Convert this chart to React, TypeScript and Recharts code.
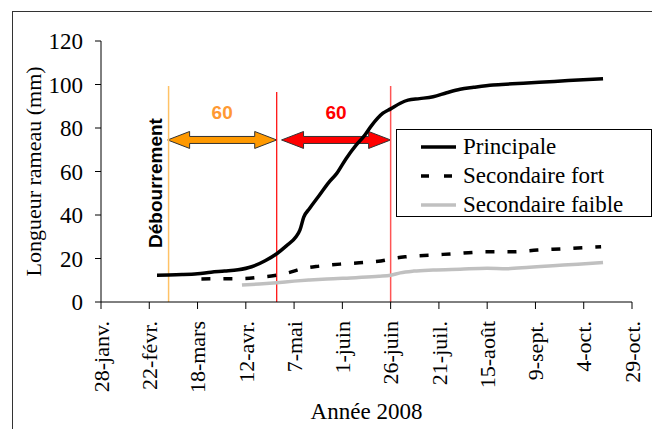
import { LineChart, Line, XAxis, YAxis, ReferenceLine, ReferenceArea, Label } from 'recharts';

// day of year 2008 (leap year)
const tickDays = [28, 53, 78, 103, 128, 153, 178, 203, 228, 253, 278, 303];
const tickLabels = ['28-janv.', '22-févr.', '18-mars', '12-avr.', '7-mai', '1-juin', '26-juin', '21-juil.', '15-août', '9-sept.', '4-oct.', '29-oct.'];
const yTicks = [0, 20, 40, 60, 80, 100, 120];

const principaleDays = [57, 63, 70, 78, 85, 92, 99, 106, 113, 119, 124, 129, 131, 133, 136, 141, 146, 150, 155, 160, 164, 168, 174, 178, 183, 187, 193, 200, 207, 214, 221, 231, 241, 255, 270, 288];
const principaleValues = [12.3, 12.4, 12.6, 13.0, 13.7, 14.2, 14.8, 16.2, 19, 22.2, 25.8, 30, 33, 39, 43, 49, 55, 59, 66, 72, 76, 81, 86.8, 88.8, 91.4, 92.8, 93.5, 94.4, 96.2, 97.8, 98.7, 99.8, 100.3, 101, 101.8, 102.7];

const fortDays = [80, 90, 102, 111, 118, 124, 133, 141, 153, 166, 175, 178, 186, 200, 214, 228, 241, 254, 266, 287];
const fortValues = [10.6, 10.7, 10.8, 11.5, 12.2, 13.2, 15.5, 16.5, 17.5, 18.3, 19.2, 19.8, 20.8, 21.6, 22.4, 23.1, 23.1, 23.9, 24.4, 25.4];

const faibleDays = [101, 110, 119, 128, 136, 145, 160, 172, 178, 183, 190, 200, 214, 228, 238, 250, 262, 275, 288];
const faibleValues = [7.8, 8.3, 8.9, 9.6, 10.1, 10.6, 11.2, 11.8, 12.3, 13.4, 14.2, 14.7, 15.1, 15.5, 15.3, 16, 16.7, 17.4, 18.2];

// débourrement, then two 60-day periods
const markerDays = [63, 119, 178];
const periodStarts = [62.5, 121.5];
const periodEnds = [119, 178];
const periodLabels = ['60', '60'];

const serif = "'Liberation Serif', 'Times New Roman', serif";
const sans = "'Liberation Sans', Arial, sans-serif";

const toRows = (days: number[], values: number[]) => days.map((day, i) => ({ day, v: values[i] }));

const series = [
  { name: 'Principale', data: toRows(principaleDays, principaleValues), color: '#000', dash: undefined },
  { name: 'Secondaire fort', data: toRows(fortDays, fortValues), color: '#000', dash: '9 13' },
  { name: 'Secondaire faible', data: toRows(faibleDays, faibleValues), color: '#c0c0c0', dash: undefined },
];

const XTick = ({ x, y, payload }: any) => (
  <text x={x} y={y} transform={`rotate(-90 ${x} ${y})`} textAnchor="end" dy="0.35em"
    fontSize={22} fontFamily={serif} fill="#000">
    {tickLabels[tickDays.indexOf(payload.value)]}
  </text>
);

const arrowShape = (fill: string, textFill: string, label: string) => (props: any) => {
  const { x, y, width, height } = props;
  const cy = y + height / 2;
  const hh = height / 2;
  const h = 22;
  const s = 3.5;
  const pts = [
    [x, cy], [x + h, cy - hh], [x + h, cy - s], [x + width - h, cy - s], [x + width - h, cy - hh],
    [x + width, cy], [x + width - h, cy + hh], [x + width - h, cy + s], [x + h, cy + s], [x + h, cy + hh],
  ].map((p) => p.join(',')).join(' ');
  return (
    <g>
      <polygon points={pts} fill={fill} stroke="#333" strokeWidth={1} />
      <text x={x + width / 2} y={y - 12} textAnchor="middle" fontFamily={sans} fontWeight="bold" fontSize={19} fill={textFill}>
        {label}
      </text>
    </g>
  );
};

const Legendbox = () => (
  <div style={{ position: 'absolute', left: 396, top: 129, width: 254, height: 86, border: '1px solid #000', background: '#fff' }}>
    {series.map((s, i) => (
      <div key={s.name} style={{ position: 'absolute', left: 0, top: 3 + i * 29, height: 28, display: 'flex', alignItems: 'center' }}>
        <svg width={66} height={10} style={{ display: 'block' }}>
          <line x1={24} x2={59} y1={5} y2={5} stroke={s.color} strokeWidth={3.5} strokeDasharray={s.dash ? '8 15' : undefined} />
        </svg>
        <span style={{ fontFamily: serif, fontSize: 23, color: '#000', whiteSpace: 'nowrap' }}>{s.name}</span>
      </div>
    ))}
  </div>
);

const ShootGrowth = () => (
  <div style={{ position: 'absolute', left: 0, top: 0, width: 652, height: 429, overflow: 'hidden', background: '#fff' }}>
    <div style={{ position: 'absolute', left: 12, top: 11, width: 700, height: 500, borderLeft: '1.5px solid #333', borderTop: '1.5px solid #333' }} />
    <LineChart width={652} height={429} margin={{ top: 41, right: 20, bottom: 0, left: 0 }}>
      <XAxis type="number" dataKey="day" domain={[28, 303]} ticks={tickDays} interval={0} allowDataOverflow
        height={127} tickSize={7} tickMargin={12} tick={<XTick />}
        axisLine={{ stroke: '#000' }} tickLine={{ stroke: '#000' }}>
        <Label content={({ viewBox }: any) => (
          <text x={viewBox.x + viewBox.width / 2} y={419} textAnchor="middle" fontFamily={serif} fontSize={23} fill="#000">Année 2008</text>
        )} />
      </XAxis>
      <YAxis type="number" domain={[0, 120]} ticks={yTicks} width={101} tickSize={6} tickMargin={12}
        tick={{ fontSize: 23, fontFamily: serif, fill: '#000' }}
        axisLine={{ stroke: '#000' }} tickLine={{ stroke: '#000' }}>
        <Label content={({ viewBox }: any) => {
          const cy = viewBox.y + viewBox.height / 2;
          return (
            <text x={33} y={cy} transform={`rotate(-90 33 ${cy})`} textAnchor="middle" dy="0.35em" fontFamily={serif} fontSize={22} fill="#000">
              Longueur rameau (mm)
            </text>
          );
        }} />
      </YAxis>
      <ReferenceLine segment={[{ x: markerDays[0], y: 0 }, { x: markerDays[0], y: 99.3 }]} stroke="#ffc266" strokeWidth={1.5}
        label={{ content: ({ viewBox }: any) => {
          const lx = viewBox.x - 13;
          return (
            <text x={lx} y={183} transform={`rotate(-90 ${lx} 183)`} textAnchor="middle" dy="0.35em" fontFamily={sans} fontWeight="bold" fontSize={19} fill="#000">
              Débourrement
            </text>
          );
        } }} />
      <ReferenceLine segment={[{ x: markerDays[1], y: 0 }, { x: markerDays[1], y: 96.5 }]} stroke="#ff0000" strokeWidth={1.2} />
      <ReferenceLine segment={[{ x: markerDays[2], y: 0 }, { x: markerDays[2], y: 99.3 }]} stroke="#ff5555" strokeWidth={1.5} />
      <ReferenceArea x1={periodStarts[0]} x2={periodEnds[0]} y1={70.6} y2={78.4} shape={arrowShape('#ff9900', '#ff9933', periodLabels[0])} />
      <ReferenceArea x1={periodStarts[1]} x2={periodEnds[1]} y1={70.6} y2={78.4} shape={arrowShape('#ff0000', '#ff0000', periodLabels[1])} />
      {series.map((s) => (
        <Line key={s.name} data={s.data} dataKey="v" name={s.name} type="monotone" stroke={s.color}
          strokeWidth={s.name === 'Principale' ? 3.5 : 3.5} strokeDasharray={s.dash} dot={false} isAnimationActive={false} />
      ))}
    </LineChart>
    <Legendbox />
  </div>
);

export default ShootGrowth;
